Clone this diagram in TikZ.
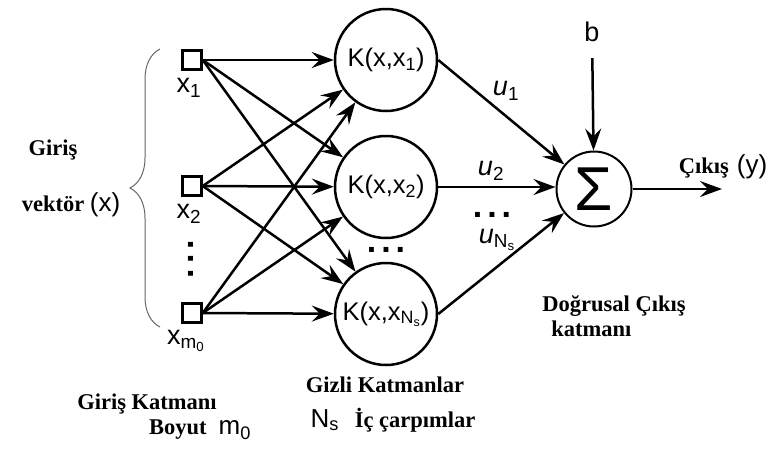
\documentclass[tikz,border=0pt]{standalone}
\usepackage{fontspec}
\setmainfont{Liberation Serif}
\setsansfont{Liberation Sans}
\usepackage{tikz}
\usetikzlibrary{arrows.meta,positioning,decorations.pathreplacing}
\newcommand{\sanstext}[1]{{\mdseries\sffamily\fontsize{26}{28}\selectfont #1}}
\newcommand{\threedots}{.\hspace{5pt}.\hspace{5pt}.}
\tikzset{inbox/.style={rectangle, draw, line width=2.5pt, minimum size=19pt, inner sep=0pt}, kernel/.style={circle, draw, line width=2.5pt, minimum size=102pt, inner sep=0pt, font=\sffamily\fontsize{25.5}{27}\selectfont}, sumnode/.style={circle, draw, line width=2pt, minimum size=75pt, inner sep=0pt, font=\sffamily\fontsize{62}{62}\selectfont}, arrow/.style={-{Stealth[length=22pt, width=16pt, inset=8pt]}, line width=2.5pt}, lbl/.style={font=\sffamily\fontsize{27}{29}\selectfont, inner sep=0pt}, dotsh/.style={font=\sffamily\bfseries\fontsize{34}{34}\selectfont, inner sep=0pt}, dotsv/.style={dotsh, rotate=90}, caption/.style={font=\bfseries\fontsize{22.5}{25}\selectfont, inner sep=0pt, align=left}, brace/.style={decorate, decoration={brace, amplitude=30pt, aspect=0.5}, draw=black!60, line width=1pt}}

\begin{document}
\begin{tikzpicture}[x=1pt, y=-1pt]
\useasboundingbox (0,0) rectangle (774,448);
% input layer
\node[inbox] (in1) at (192,60) {};
\node[inbox] (in2) at (192,186) {};
\node[inbox] (inm) at (192,313) {};
\node[lbl] (in1lbl) at (189,88) {x\textsubscript{1}};
\node[lbl] (in2lbl) at (189,214) {x\textsubscript{2}};
\node[lbl] (inmlbl) at (186,341) {x\textsubscript{m\textsubscript{0}}};
\node[dotsv] (indots) at (191,259) {\threedots};
\draw[brace] (160,327) -- (160,49);
\node[caption] (invec1) at (53,150) {Giriş};
\node[caption] (invec2) at (71,205) {vektör \sanstext{(x)}};
% hidden layer
\node[kernel] (k1) at (386,60) {K(x,x\textsubscript{1})};
\node[kernel] (k2) at (386,187) {K(x,x\textsubscript{2})};
\node[kernel] (k3) at (386,314) {K(x,x\textsubscript{N\textsubscript{s}})};
\node[dotsh] (kdots) at (386,250) {\threedots};
% output layer
\node[sumnode] (sum) at (594,189) {Σ};
\node[lbl] (bias) at (592,32) {b};
\coordinate (out) at (722,189);
\node[caption] (outlbl) at (723,167) {Çıkış\hspace{8pt}\sanstext{(y)}};
\node[lbl] (u1) at (506,91) {\textit{u}\textsubscript{1}};
\node[lbl] (u2) at (491,171) {\textit{u}\textsubscript{2}};
\node[dotsh] (udots) at (492,215) {\threedots};
\node[lbl] (uns) at (497,240) {\textit{u}\textsubscript{N\textsubscript{s}}};
% connections
\foreach \i in {in1,in2,inm}
  \foreach \k in {k1,k2,k3}
    \draw[arrow] (\i.east) -- (\k);
\draw[arrow] (k1.east) -- (sum);
\draw[arrow] (k2.east) -- (k2.east -| sum.west);
\draw[arrow] (k3.east) -- (sum);
\draw[arrow, shorten <=16pt] (bias) -- (sum);
\draw[arrow] (sum) -- (out);
% layer captions
\node[caption] (inlayer) at (147,404) {Giriş Katmanı};
\node[caption] (indim) at (200,430) {Boyut\hspace{12pt}\sanstext{m\textsubscript{0}}};
\node[caption] (hidlayer) at (385,385) {Gizli Katmanlar};
\node[caption] (hiddim) at (393,420) {\sanstext{N\textsubscript{s}}\hspace{16pt}İç çarpımlar};
\node[caption] (outlayer) at (614,316) {Doğrusal Çıkış\\\hspace{9pt}katmanı};
\end{tikzpicture}
\end{document}
